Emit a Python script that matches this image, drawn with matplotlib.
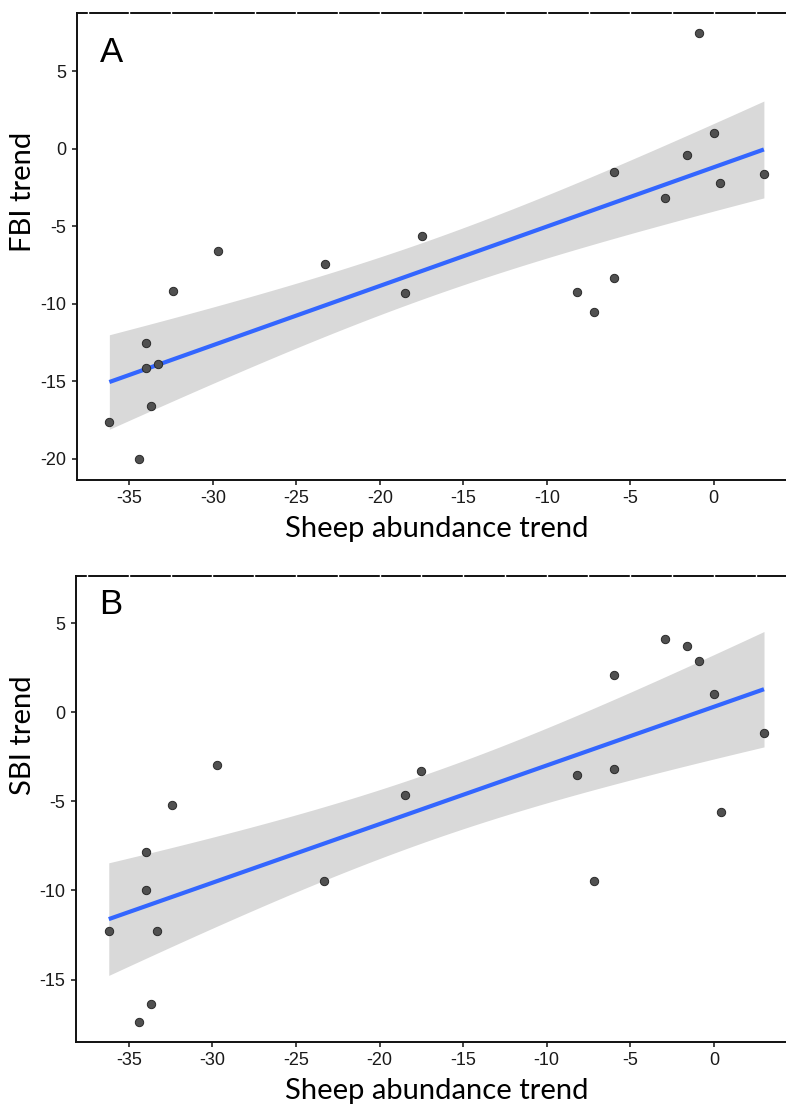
import numpy as np
import matplotlib.pyplot as plt
from matplotlib.ticker import MultipleLocator

plt.rcParams['axes.unicode_minus'] = False

sheep = [3.0, 0.0, -0.9, -1.6, 0.4, -6.0, -2.9, -6.0, -8.2, -7.2, -18.5,
         -17.5, -23.3, -29.7, -32.4, -34.0, -34.0, -33.3, -33.7, -36.2, -34.4]
fbi = [-1.6, 1.0, 7.5, -0.4, -2.2, -1.5, -3.2, -8.35, -9.25, -10.5, -9.3,
       -5.6, -7.4, -6.6, -9.2, -12.55, -14.15, -13.9, -16.6, -17.6, -20.0]
sbi = [-1.15, 1.0, 2.9, 3.7, -5.6, 2.1, 4.1, -3.2, -3.5, -9.45, -4.65,
       -3.3, -9.45, -2.95, -5.2, -7.85, -10.0, -12.3, -16.35, -12.3, -17.4]

panels = ['A', 'B']
ylabels = ['FBI trend', 'SBI trend']
xlabel = 'Sheep abundance trend'
T95 = 2.093  # t quantile, df = 19


def fit_line(x, y):
    x = np.asarray(x)
    y = np.asarray(y)
    n = len(x)
    b, a = np.polyfit(x, y, 1)
    resid = y - (a + b * x)
    s = np.sqrt(np.sum(resid ** 2) / (n - 2))
    xs = np.linspace(x.min(), x.max(), 100)
    se = s * np.sqrt(1 / n + (xs - x.mean()) ** 2 / np.sum((x - x.mean()) ** 2))
    fit = a + b * xs
    return xs, fit, fit - T95 * se, fit + T95 * se


fig = plt.figure(figsize=(7.86, 11.08), dpi=100)
ax1 = fig.add_axes([0.0975, 0.5668, 0.916, 0.4215])
ax2 = fig.add_axes([0.0967, 0.0596, 0.917, 0.4206])

ylims = [(-21.37, 8.77), (-18.5, 7.65)]
label_y = [0.95, 0.975]
ylab_pos = [0.617, 0.659]

for ax, ys, lab, yl, lim, ly, yp in zip([ax1, ax2], [fbi, sbi], panels, ylabels,
                                         ylims, label_y, ylab_pos):
    xs, fit, lo, hi = fit_line(sheep, ys)
    ax.fill_between(xs, lo, hi, color='#d9d9d9', lw=0, zorder=1)
    ax.plot(xs, fit, color='#3366ff', lw=3, zorder=2, solid_capstyle='butt')
    ax.scatter(sheep, ys, s=36, color='#505050', edgecolor='#2a2a2a', lw=0.7, zorder=3)

    ax.set_xlim(-38.16, 4.96)
    ax.set_ylim(*lim)
    ax.xaxis.set_major_locator(MultipleLocator(5))
    ax.yaxis.set_major_locator(MultipleLocator(5))
    ax.xaxis.set_minor_locator(MultipleLocator(2.5))
    ax.yaxis.set_minor_locator(MultipleLocator(2.5))

    for side in ['left', 'bottom', 'top']:
        ax.spines[side].set_linewidth(1.4)
        ax.spines[side].set_color('#111111')
    ax.spines['right'].set_visible(False)

    ax.tick_params(which='major', length=3.5, width=1.1, color='#111111',
                   labelsize=13, labelcolor='#1a1a1a', pad=4)
    ax.tick_params(which='minor', direction='inout', length=2.5, width=1.0,
                   color='white', left=True, bottom=True)
    for t in ax.get_xticklabels() + ax.get_yticklabels():
        t.set_family(['Liberation Sans', 'DejaVu Sans'])

    # small white breaks along the top border
    sec = ax.secondary_xaxis('top')
    sec.xaxis.set_major_locator(MultipleLocator(2.5))
    sec.tick_params(direction='inout', length=2.5, width=1.0, color='white',
                    labeltop=False)
    sec.spines['top'].set_visible(False)
    sec.set_zorder(5)

    ax.set_xlabel(xlabel, fontsize=21, family=['Lato', 'DejaVu Sans'], labelpad=6)
    ax.set_ylabel(yl, fontsize=21, family=['Lato', 'DejaVu Sans'])
    ax.yaxis.set_label_coords(-0.056, yp)
    ax.text(0.032, ly, lab, transform=ax.transAxes, fontsize=25,
            family=['Liberation Sans', 'DejaVu Sans'], va='top', ha='left')

fig.savefig('out.png', dpi=100)
